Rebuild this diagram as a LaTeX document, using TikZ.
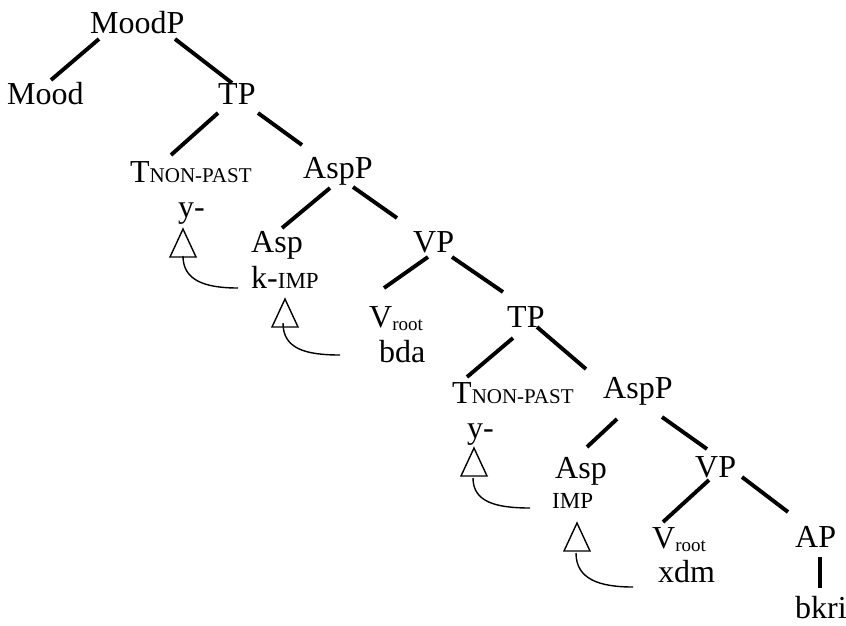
\documentclass[tikz,border=0pt]{standalone}
\usepackage{fontspec}
\setmainfont{Liberation Serif}
\usetikzlibrary{calc}
\newcommand{\smc}[1]{{\fontsize{21}{24}\selectfont #1}}
\newcommand{\smci}[1]{{\fontsize{23}{26}\selectfont #1}}
\newcommand{\sbs}[1]{\raisebox{-3pt}{\fontsize{19}{22}\selectfont #1}}
\begin{document}
\begin{tikzpicture}[x=1pt,y=-1pt,
  lab/.style={anchor=base west,inner sep=0pt,font=\fontsize{32}{38}\selectfont},
  br/.style={line width=3.9pt},
  tri/.style={line width=1.4pt,line join=miter},
  mv/.style={line width=1.4pt}]
\useasboundingbox[fill=white] (0,0) rectangle (846,625);
% nodes
\node[lab] (MoodP) at (90,33) {MoodP};
\node[lab] (Mood) at (7,104) {Mood};
\node[lab] (TPa) at (218,104) {TP};
\node[lab] (Ta) at (130,182) {T\smc{NON-PAST}};
\node[lab] (ya) at (178,217) {y-};
\node[lab] (AspPa) at (303,178) {AspP};
\node[lab] (Aspa) at (251,252) {Asp};
\node[lab] (kimp) at (251,288) {k-\smci{IMP}};
\node[lab] (VPa) at (413,252) {VP};
\node[lab] (Va) at (369,327) {V\sbs{root}};
\node[lab] (bda) at (379,362) {bda};
\node[lab] (TPb) at (507,327) {TP};
\node[lab] (Tb) at (452,403) {T\smc{NON-PAST}};
\node[lab] (yb) at (467,438) {y-};
\node[lab] (AspPb) at (603,398) {AspP};
\node[lab] (Aspb) at (555,478) {Asp};
\node[lab] (imp) at (552,508) {\smci{IMP}};
\node[lab] (VPb) at (695,477) {VP};
\node[lab] (Vb) at (652,548) {V\sbs{root}};
\node[lab] (xdm) at (658,582) {xdm};
\node[lab] (AP) at (795,547) {AP};
\node[lab] (bkri) at (795,618) {bkri};
% branches
\draw[br] ($(MoodP.base west)+(9,6)$) -- ($(Mood.base west)+(44,-24)$);
\draw[br] ($(MoodP.base west)+(85,6)$) -- ($(TPa.base west)+(14,-21)$);
\draw[br] ($(TPa.base west)+(0,9)$) -- ($(Ta.base west)+(41,-27)$);
\draw[br] ($(TPa.base west)+(40,9)$) -- ($(AspPa.base west)+(-1,-33)$);
\draw[br] ($(AspPa.base west)+(27,10)$) -- ($(Aspa.base west)+(31,-24)$);
\draw[br] ($(AspPa.base west)+(50,9)$) -- ($(VPa.base west)+(-16,-34)$);
\draw[br] ($(VPa.base west)+(15,5)$) -- ($(Va.base west)+(15,-39)$);
\draw[br] ($(VPa.base west)+(39,5)$) -- ($(TPb.base west)+(-4,-35)$);
\draw[br] ($(TPb.base west)+(6,11)$) -- ($(Tb.base west)+(15,-26)$);
\draw[br] ($(TPb.base west)+(30,0)$) -- ($(AspPb.base west)+(-17,-29)$);
\draw[br] ($(AspPb.base west)+(14,21)$) -- ($(Aspb.base west)+(32,-31)$);
\draw[br] ($(AspPb.base west)+(59,19)$) -- ($(VPb.base west)+(12,-28)$);
\draw[br] ($(VPb.base west)+(14,3)$) -- ($(Vb.base west)+(11,-26)$);
\draw[br] ($(VPb.base west)+(47,0)$) -- ($(AP.base west)+(-7,-35)$);
\draw[br] ($(AP.base west)+(25,10)$) -- ($(bkri.base west)+(25,-30)$);
% triangles
\coordinate (tra) at ($(ya.base west)+(5,12)$);
\coordinate (trb) at ($(kimp.base west)+(34,11)$);
\coordinate (trc) at ($(yb.base west)+(7,10)$);
\coordinate (trd) at ($(imp.base west)+(25,15)$);
\foreach \t in {tra,trb,trc,trd}
  \draw[tri] (\t) -- ++(-13,28) -- ++(26,0) -- cycle;
% movement curves
\draw[mv] ($(tra)+(0,27)$) .. controls +(0,24) and +(-34,0) .. ($(kimp.base west)+(-13,0)$);
\draw[mv] ($(trb)+(-2,24)$) .. controls +(0,26) and +(-34,0) .. ($(bda.base west)+(-39,-7)$);
\draw[mv] ($(trc)+(-1,30)$) .. controls +(0,24) and +(-34,0) .. ($(imp.base west)+(-22,0)$);
\draw[mv] ($(trd)+(-1,30)$) .. controls +(0,26) and +(-34,0) .. ($(xdm.base west)+(-25,5)$);
\end{tikzpicture}
\end{document}
